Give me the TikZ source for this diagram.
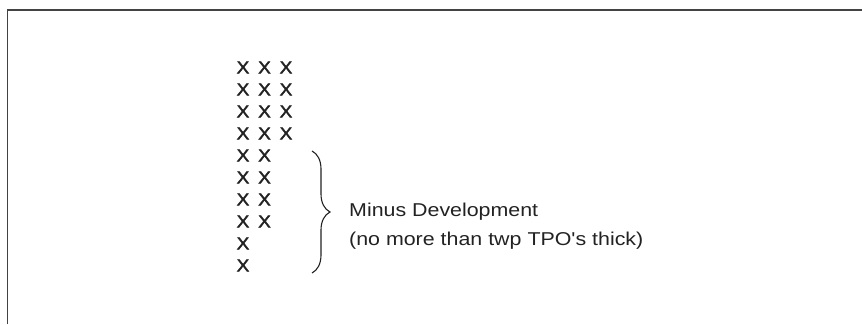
\documentclass[tikz,border=0pt]{standalone}
\usepackage{fontspec}
\setmainfont{Liberation Sans}
\newfontfamily\lblfont[FakeStretch=1.15]{Liberation Sans}
\newfontfamily\markfont[FakeStretch=1.1, FakeBold=2.5]{Liberation Sans}
\usetikzlibrary{decorations.pathreplacing}
\definecolor{ink}{HTML}{222222}
\tikzset{
  frameline/.style={draw=ink!85, line width=1.9pt},
  tpo/.style={inner sep=0pt, text=ink, font=\markfont\fontsize{17}{17}\selectfont},
  caption/.style={inner sep=0pt, anchor=base west, text=ink, font=\lblfont\fontsize{18.6}{22}\selectfont},
  bracket/.style={draw=ink, line width=1.1pt, decorate,
    decoration={brace, amplitude=18pt, aspect=0.5}}
}
\begin{document}
\begin{tikzpicture}[x=1pt, y=1pt]
  \useasboundingbox (0,0) rectangle (862,324);
  % border along the top and the left
  \draw[frameline] (7.5,0) -- (7.5,314) -- (862,314);
  % columns of X marks: three wide, then two, then one
  \foreach \r/\n in {0/3,1/3,2/3,3/3,4/2,5/2,6/2,7/2,8/1,9/1} {
    \foreach \c in {1,...,\n} {
      \node[tpo] (x-\r-\c) at ({243+21.5*(\c-1)}, {256.5-22*\r}) {X};
    }
  }
  % brace spanning the thin lower part
  \coordinate (bt) at (312,173);
  \coordinate (bb) at (312,51);
  \draw[bracket] (bt) -- (bb);
  \node[caption] (lab1) at (349,107) {Minus Development};
  \node[caption] (lab2) at (349,78) {(no more than twp TPO's thick)};
\end{tikzpicture}
\end{document}
